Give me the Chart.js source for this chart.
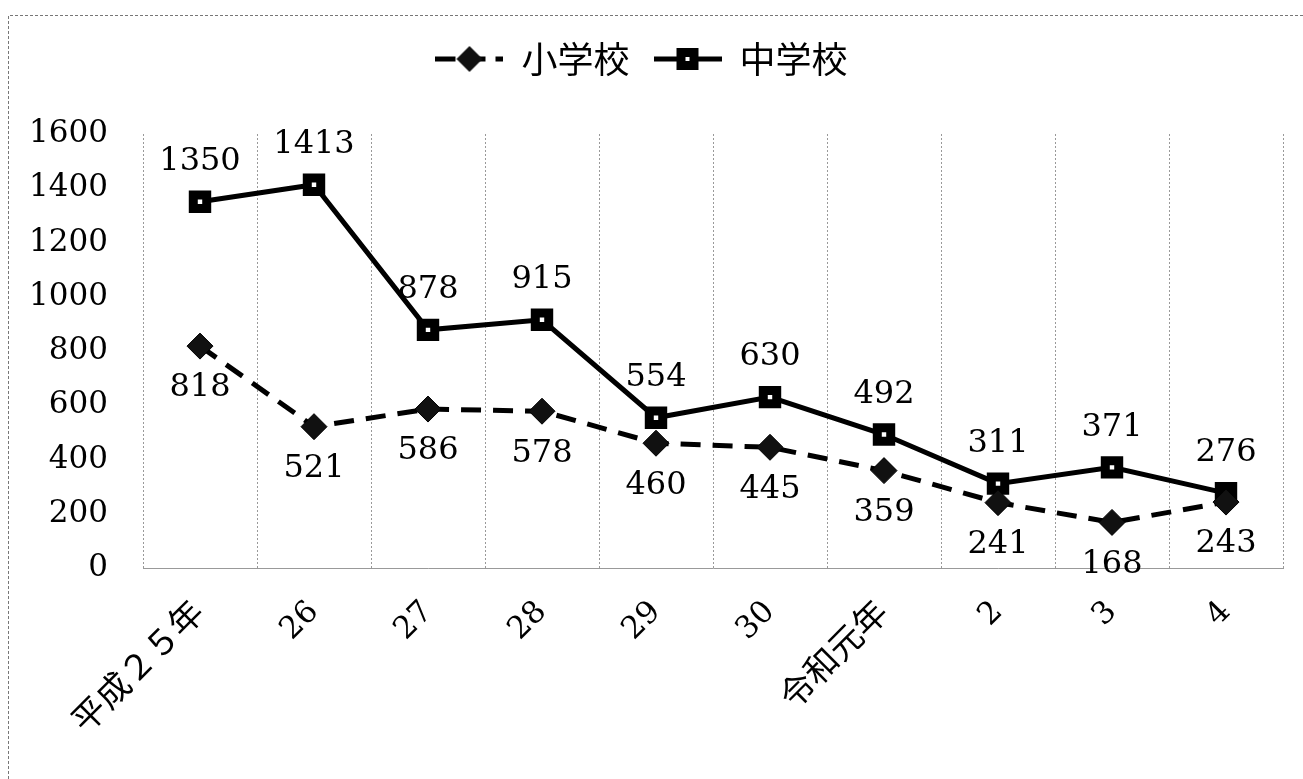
<!DOCTYPE html>
<html>
<head>
<meta charset="utf-8">
<script src="https://cdn.jsdelivr.net/npm/chart.js@4/dist/chart.umd.min.js"></script>
<style>
  html, body { margin: 0; padding: 0; background: #fff; }
  #wrap { width: 1303px; height: 779px; position: relative; }
</style>
</head>
<body>
<div id="wrap"><canvas id="myChart"></canvas></div>
<script>
// data
const years = ['平成２５年', '26', '27', '28', '29', '30', '令和元年', '2', '3', '4'];
const elementary = [818, 521, 586, 578, 460, 445, 359, 241, 168, 243];   // 小学校
const juniorHigh = [1350, 1413, 878, 915, 554, 630, 492, 311, 371, 276]; // 中学校

const serif = '"DejaVu Serif", "Noto Sans CJK JP", serif';
const ch = document.getElementById('myChart').getContext('2d');

// small canvas used as legend symbol: line + marker
function legendIcon(shape, dashed) {
    const c = document.createElement('canvas');
    c.width = 68;
    c.height = 30;
    const g = c.getContext('2d');
    g.strokeStyle = '#000';
    g.lineWidth = 5;
    if (dashed) g.setLineDash([20, 10]);
    g.beginPath();
    g.moveTo(0, 15);
    g.lineTo(68, 15);
    g.stroke();
    g.setLineDash([]);
    if (shape === 'diamond') {
        g.fillStyle = '#111';
        g.beginPath();
        g.moveTo(34, 2); g.lineTo(47, 15); g.lineTo(34, 28); g.lineTo(21, 15);
        g.closePath();
        g.fill();
    } else {
        g.fillStyle = '#000';
        g.fillRect(23, 4, 22, 22);
        g.fillStyle = '#fff';
        g.fillRect(32, 13, 4, 4);
    }
    return c;
}

// numbers next to the points
const valueLabels = {
    id: 'valueLabels',
    afterDatasetsDraw(chart) {
        const ctx = chart.ctx;
        ctx.save();
        ctx.font = '32px ' + serif;
        ctx.fillStyle = '#000';
        ctx.textAlign = 'center';
        ctx.textBaseline = 'middle';
        chart.data.datasets.forEach((ds, i) => {
            chart.getDatasetMeta(i).data.forEach((pt, j) => {
                ctx.fillText(ds.data[j], pt.x, pt.y + ds.labelShift);
            });
        });
        ctx.restore();
    }
};

// white background and the dotted frame of the scan
const frame = {
    id: 'frame',
    beforeDraw(chart) {
        const ctx = chart.ctx;
        ctx.save();
        ctx.fillStyle = '#fff';
        ctx.fillRect(0, 0, chart.width, chart.height);
        ctx.strokeStyle = '#777';
        ctx.lineWidth = 1;
        ctx.setLineDash([3, 2]);
        ctx.beginPath();
        ctx.moveTo(8.5, chart.height);
        ctx.lineTo(8.5, 15.5);
        ctx.lineTo(chart.width, 15.5);
        ctx.stroke();
        ctx.restore();
    }
};

const data = {
    labels: years,
    datasets: [{
        label: '小学校',
        data: elementary,
        borderColor: '#000',
        borderWidth: 5,
        borderDash: [20, 12],
        pointStyle: 'rectRot',
        pointRadius: 13,
        pointHoverRadius: 13,
        pointBackgroundColor: '#111',
        pointBorderColor: '#000',
        pointBorderWidth: 1,
        labelShift: 42,
        legendIcon: legendIcon('diamond', true)
    }, {
        label: '中学校',
        data: juniorHigh,
        borderColor: '#000',
        borderWidth: 5,
        pointStyle: 'rect',
        pointRadius: 9.5,
        pointHoverRadius: 9.5,
        pointBackgroundColor: '#fff',
        pointBorderColor: '#000',
        pointBorderWidth: 9,
        labelShift: -40,
        legendIcon: legendIcon('square', false)
    }]
};

const config = {
    type: 'line',
    data: data,
    plugins: [frame, valueLabels],
    options: {
        responsive: true,
        maintainAspectRatio: false,
        animation: false,
        layout: { padding: { top: 17, right: 20, left: 0, bottom: 0 } },
        plugins: {
            tooltip: { enabled: false },
            legend: {
                position: 'top',
                weight: 3000,
                labels: {
                    font: { size: 36, family: '"Noto Sans CJK JP"' },
                    color: '#000',
                    usePointStyle: true,
                    pointStyleWidth: 68,
                    padding: 24,
                    generateLabels(chart) {
                        const items = Chart.defaults.plugins.legend.labels.generateLabels(chart);
                        items.forEach(it => {
                            it.pointStyle = chart.data.datasets[it.datasetIndex].legendIcon;
                        });
                        return items;
                    }
                }
            },
            // empty title only used as spacer between legend and plot
            title: {
                display: true,
                text: '',
                weight: 500,
                font: { size: 10 },
                padding: { top: 0, bottom: 35 }
            }
        },
        scales: {
            x: {
                offset: true,
                grid: { offset: true, color: '#999', lineWidth: 1, drawTicks: false },
                border: { display: true, color: '#999', dash: [2, 2] },
                ticks: {
                    font(c) {
                        const lbl = c.tick ? String(c.tick.label) : '';
                        return { family: serif, size: /^\d+$/.test(lbl) ? 31 : 34 };
                    },
                    color: '#000',
                    minRotation: 45,
                    maxRotation: 45,
                    padding: 26
                },
                afterFit(scale) { scale.height = 211; }
            },
            y: {
                min: 0,
                max: 1600,
                grid: { display: false, drawTicks: false },
                border: { display: false },
                ticks: {
                    stepSize: 200,
                    font: { size: 31, family: serif },
                    color: '#000',
                    padding: 35,
                    callback: v => String(v)
                },
                afterFit(scale) { scale.width = 143; }
            }
        }
    }
};

const myChart = new Chart(ch, config);
</script>
</body>
</html>
